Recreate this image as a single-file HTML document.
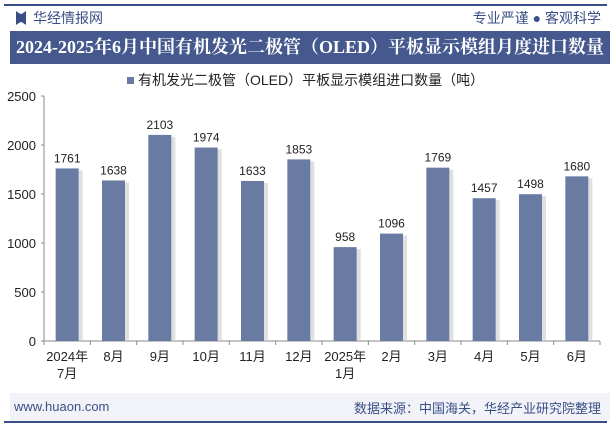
<!DOCTYPE html>
<html><head><meta charset="utf-8"><style>
body{margin:0;width:611px;height:425px;background:#fff;font-family:"Liberation Sans","Noto Sans CJK SC",sans-serif;position:relative;overflow:hidden}
.a{position:absolute}
</style></head><body>
<div class="a" style="left:4px;top:4px;width:603px;height:2px;background:#3b4f86"></div>
<div class="a" style="left:16px;top:11px;width:10px;height:14px;background:#3b4f86;clip-path:polygon(0 0,40% 20%,60% 20%,100% 0,100% 100%,60% 80%,40% 80%,0 100%)"></div>
<div class="a" style="left:33px;top:8px;font-size:14px;color:#3b4f86">华经情报网</div>
<div class="a" style="right:10px;top:8px;font-size:14px;color:#3b4f86">专业严谨 ● 客观科学</div>
<div class="a" style="left:10px;top:31px;width:600px;height:33px;background:#45598f;color:#fff;font-size:18px;font-weight:bold;line-height:33px;text-align:center;font-family:'Liberation Serif','Noto Serif CJK SC',serif">2024-2025年6月中国有机发光二极管（OLED）平板显示模组月度进口数量</div>
<svg class="a" style="left:0;top:0" width="611" height="425" id="c"></svg>
<div class="a" style="left:10px;top:393px;width:600px;height:28px;background:#f1f3f8"></div>
<div class="a" style="left:14px;top:399px;font-size:13px;color:#3b4f86">www.huaon.com</div>
<div class="a" style="right:10px;top:398px;font-size:13px;color:#3b4f86">数据来源：中国海关，华经产业研究院整理</div>
<div class="a" style="left:4px;top:421px;width:603px;height:2px;background:#3b4f86"></div>
<script>
const categories=["2024年\n7月","8月","9月","10月","11月","12月","2025年\n1月","2月","3月","4月","5月","6月"];
const values=[1761,1638,2103,1974,1633,1853,958,1096,1769,1457,1498,1680];
const ticks=[0,500,1000,1500,2000,2500];
const svg=document.getElementById('c');const NS="http://www.w3.org/2000/svg";
const x0=44,x1=600,y0=341,y1=96,ymax=2500;
const step=(x1-x0)/categories.length;
const Y=v=>y0-(v/ymax)*(y0-y1);const X=i=>x0+step*(i+0.5);
function mk(t,a,p){const e=document.createElementNS(NS,t);for(const k in a)e.setAttribute(k,a[k]);(p||svg).appendChild(e);return e;}
let lg=mk('rect',{x:127,y:77,width:7,height:7,fill:'#6a7ba3'});


let lt=mk('text',{x:138,y:85,'font-size':14,fill:'#222'});lt.textContent='有机发光二极管（OLED）平板显示模组进口数量（吨）';


let ax=mk('line',{x1:x0,y1:y1,x2:x0,y2:y0,stroke:'#888'});


ticks.forEach(t=>{mk('line',{x1:x0-3,x2:x0,y1:Y(t),y2:Y(t),stroke:'#888'});
let e=mk('text',{x:x0-8,y:Y(t)+5,'font-size':13,fill:'#222','text-anchor':'end'});e.textContent=t;

});
let xa=mk('line',{x1:x0,y1:y0,x2:x1,y2:y0,stroke:'#888'});


for(let i=0;i<=categories.length;i++)mk('line',{x1:x0+step*i,x2:x0+step*i,y1:y0,y2:y0+4,stroke:'#888'});
values.forEach((v,i)=>{const cx=X(i),w=23;
mk('rect',{x:cx+w/2,y:Y(v)+2,width:4,height:y0-Y(v)-2,fill:'#ccc',opacity:0.6});
let r=mk('rect',{x:cx-w/2,y:Y(v),width:w,height:y0-Y(v),fill:'#6a7ba3'});


let t=mk('text',{x:cx,y:Y(v)-6,'font-size':12,fill:'#222','text-anchor':'middle'});t.textContent=v;


categories[i].split('\n').forEach((s,j)=>{let c=mk('text',{x:cx,y:y0+20+j*17,'font-size':13,fill:'#222','text-anchor':'middle'});c.textContent=s;

});});
</script>
</body></html>
